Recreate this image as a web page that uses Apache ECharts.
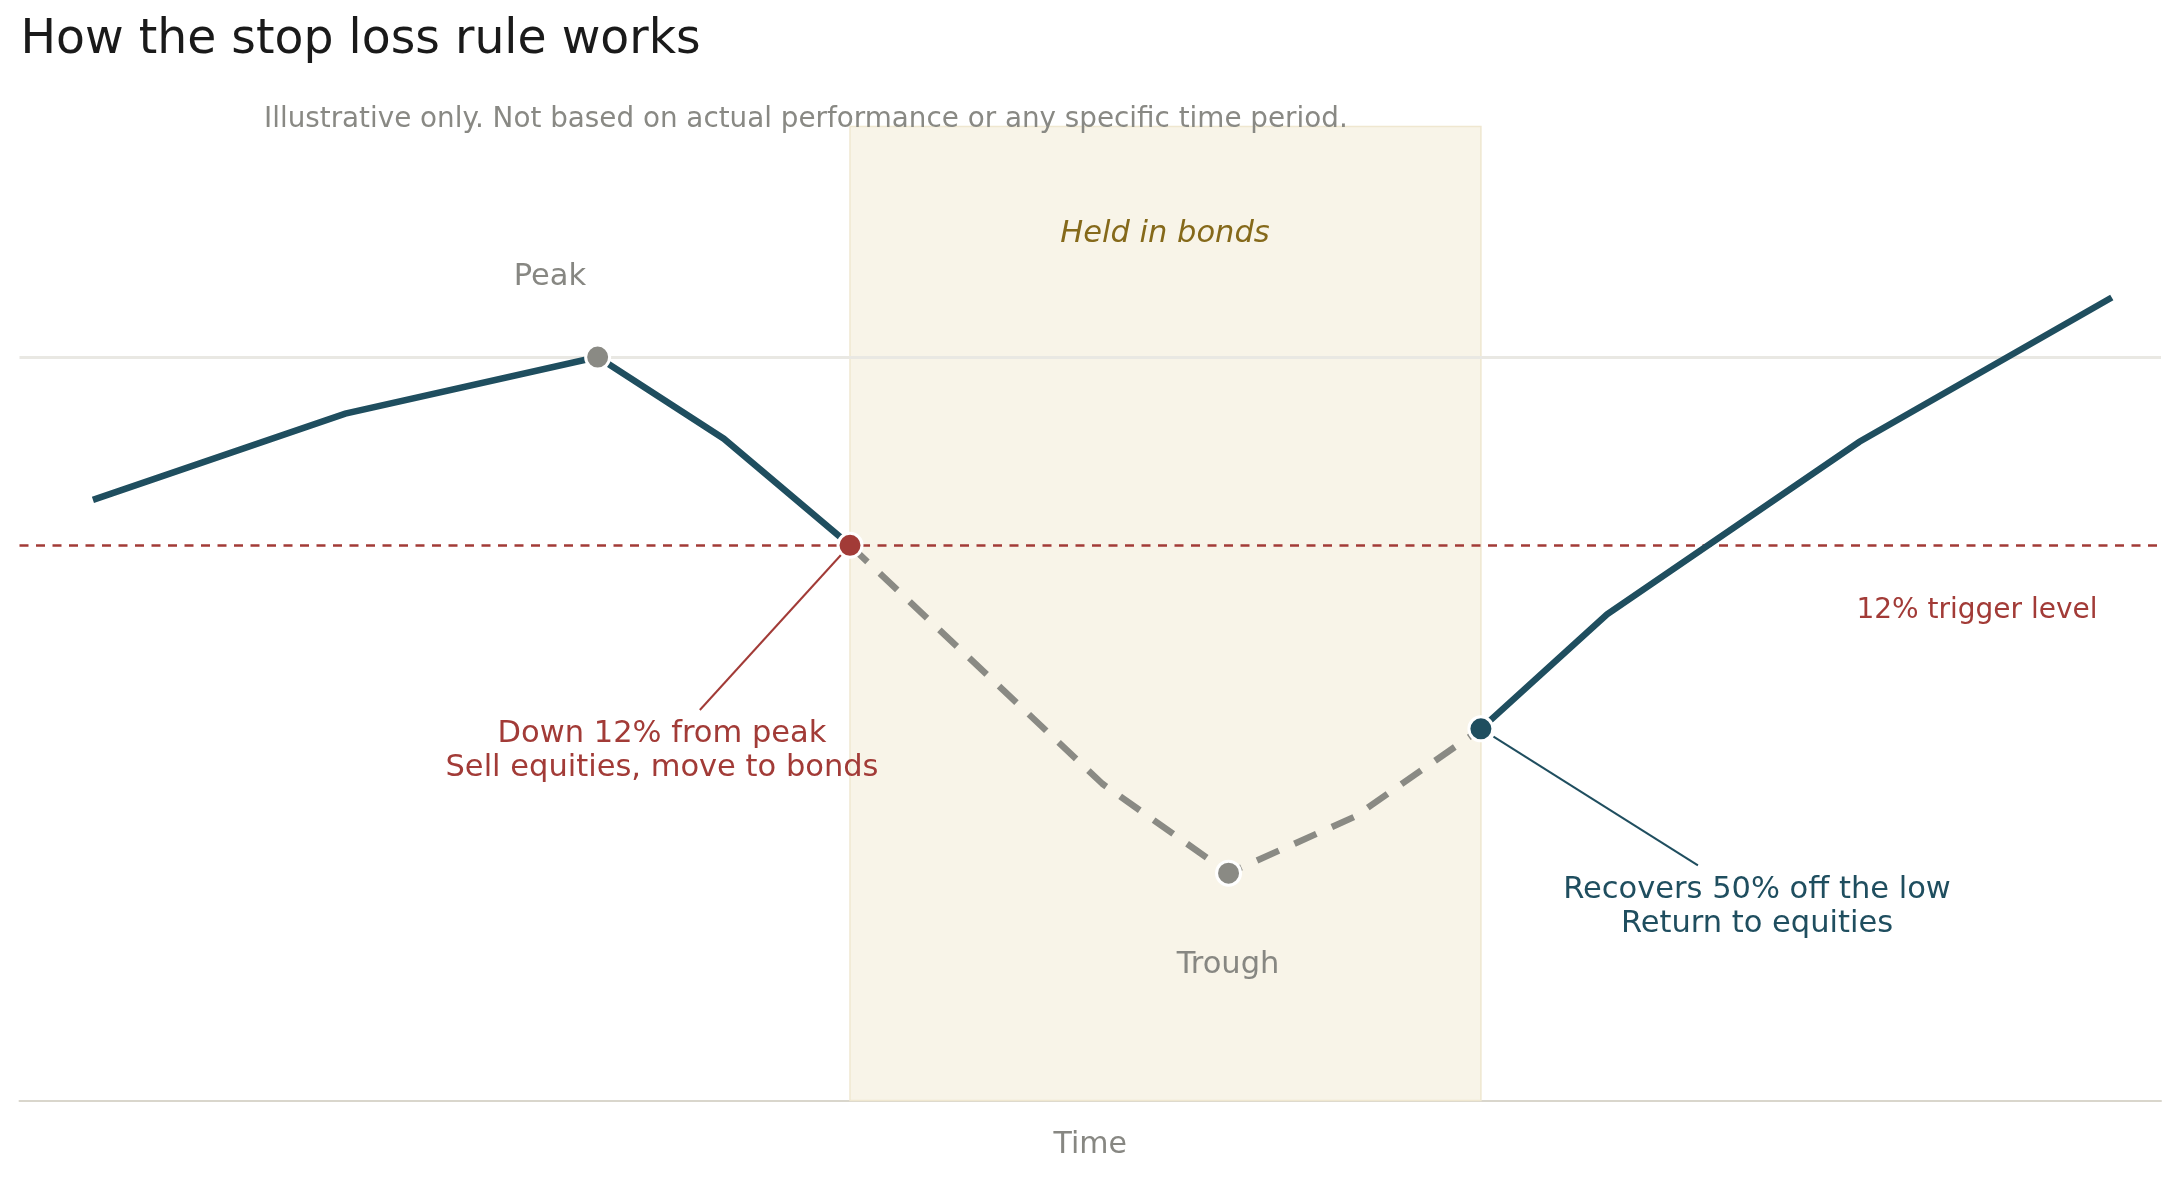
<!DOCTYPE html>
<html>
<head>
<meta charset="utf-8">
<title>How the stop loss rule works</title>
<script src="https://cdn.jsdelivr.net/npm/echarts@6/dist/echarts.min.js"></script>
<style>
  html, body { margin: 0; padding: 0; background: #ffffff; }
  #chart { width: 2179px; height: 1179px; }
</style>
</head>
<body>
<div id="chart"></div>
<script>
/* ---- data (illustrative path) ---- */
var times  = [0, 2, 4, 5, 6, 8, 9, 10, 11, 12, 14, 16];
var values = [90.9, 96.4, 100, 94.8, 88, 72.8, 67.1, 70.7, 76.3, 83.6, 94.6, 103.8];

var peakLevel = 100;      // reference line at the peak
var triggerLevel = 88;    // 12% below the peak

var peakIndex = 2;
var sellIndex = 4;
var troughIndex = 6;
var buyIndex = 8;

var labels = {
  title: 'How the stop loss rule works',
  subtitle: 'Illustrative only. Not based on actual performance or any specific time period.',
  peak: 'Peak',
  trough: 'Trough',
  bonds: 'Held in bonds',
  trigger: '12% trigger level',
  sell: 'Down 12% from peak\nSell equities, move to bonds',
  buy: 'Recovers 50% off the low\nReturn to equities',
  xName: 'Time'
};

/* colours */
var TEAL = '#1f4e5f';
var RED = '#a23b37';
var GREY = '#8a8a84';
var GOLD = '#85691a';
var FONT = 'DejaVu Sans';

function segment(a, b) {
  var out = [];
  for (var i = a; i <= b; i++) out.push([times[i], values[i]]);
  return out;
}

function keyPoint(i, color) {
  return {
    value: [times[i], values[i]],
    itemStyle: { color: color, borderColor: '#ffffff', borderWidth: 3, opacity: 1 }
  };
}

var chart = echarts.init(document.getElementById('chart'), null, { renderer: 'canvas' });

var option = {
  animation: false,
  backgroundColor: '#ffffff',
  title: [{
    text: labels.title,
    left: 20.5, top: 17.5, padding: 0,
    textStyle: { fontFamily: FONT, fontSize: 47.3, fontWeight: 'normal', color: '#1a1a1a', lineHeight: 47.3 }
  }, {
    text: labels.subtitle,
    left: 264, top: 106, padding: 0,
    textStyle: { fontFamily: FONT, fontSize: 27.8, fontWeight: 'normal', color: '#898984', lineHeight: 27.8 }
  }],
  grid: { left: 19.5, right: 18, top: 126.5, bottom: 78.4, containLabel: false },
  xAxis: {
    type: 'value',
    min: -0.582,
    max: 16.39,
    name: labels.xName,
    nameLocation: 'middle',
    nameGap: 30,
    nameTextStyle: { fontFamily: FONT, fontSize: 30, color: '#878782' },
    axisLine: { show: true, lineStyle: { color: '#d9d6cc', width: 2 } },
    axisTick: { show: false },
    axisLabel: { show: false },
    splitLine: { show: false }
  },
  yAxis: {
    type: 'value',
    min: 52.6,
    max: 114.7,
    axisLine: { show: false },
    axisTick: { show: false },
    axisLabel: { show: false },
    splitLine: { show: false }
  },
  series: [
    {
      // shaded period + reference lines
      name: 'frame',
      type: 'line',
      data: [],
      z: 1,
      silent: true,
      markArea: {
        z: 1,
        silent: true,
        itemStyle: { color: '#f8f4e8', borderColor: '#efe7d0', borderWidth: 1.5 },
        data: [[{ xAxis: times[sellIndex] }, { xAxis: times[buyIndex] }]]
      },
      markLine: {
        z: 2,
        silent: true,
        symbol: ['none', 'none'],
        label: { show: false },
        emphasis: { disabled: true },
        data: [
          { yAxis: peakLevel, lineStyle: { color: '#e9e8e3', width: 3, type: 'solid' } },
          { yAxis: triggerLevel, lineStyle: { color: RED, width: 2.5, type: [9, 7.5] } }
        ]
      }
    },
    {
      name: 'annotation lines',
      type: 'line',
      data: [],
      z: 2,
      silent: true,
      markLine: {
        z: 2,
        silent: true,
        symbol: ['none', 'none'],
        label: { show: false },
        emphasis: { disabled: true },
        data: [
          [{ coord: [4.81, 77.5], lineStyle: { color: RED, width: 2, type: 'solid' } }, { coord: [5.93, 87.4] }],
          [{ coord: [11.10, 75.8], lineStyle: { color: TEAL, width: 2, type: 'solid' } }, { coord: [12.72, 67.6] }]
        ]
      }
    },
    {
      name: 'Equities',
      type: 'line',
      data: segment(0, sellIndex),
      z: 3,
      symbol: 'none',
      lineStyle: { color: TEAL, width: 6.5, cap: 'butt', join: 'miter' }
    },
    {
      name: 'Avoided drawdown',
      type: 'line',
      data: segment(sellIndex, buyIndex),
      z: 3,
      symbol: 'none',
      lineStyle: { color: GREY, width: 6.5, type: [24, 17], cap: 'butt' }
    },
    {
      name: 'Equities again',
      type: 'line',
      data: segment(buyIndex, times.length - 1),
      z: 3,
      symbol: 'none',
      lineStyle: { color: TEAL, width: 6.5, cap: 'butt', join: 'miter' }
    },
    {
      name: 'Key points',
      type: 'scatter',
      z: 4,
      symbol: 'circle',
      symbolSize: 24,
      itemStyle: { opacity: 1 },
      emphasis: { disabled: true },
      data: [
        keyPoint(peakIndex, GREY),
        keyPoint(sellIndex, RED),
        keyPoint(troughIndex, GREY),
        keyPoint(buyIndex, TEAL)
      ]
    }
  ],
  graphic: [
    { type: 'text', x: 550, y: 277.5, z: 10, silent: true,
      style: { text: labels.peak, fill: '#878782', fontFamily: FONT, fontSize: 30.5, textAlign: 'center', textVerticalAlign: 'middle' } },
    { type: 'text', x: 1165, y: 234.5, z: 10, silent: true,
      style: { text: labels.bonds, fill: GOLD, fontFamily: FONT, fontSize: 30.5, fontStyle: 'italic', textAlign: 'center', textVerticalAlign: 'middle' } },
    { type: 'text', x: 1228, y: 965, z: 10, silent: true,
      style: { text: labels.trough, fill: '#878782', fontFamily: FONT, fontSize: 30.5, textAlign: 'center', textVerticalAlign: 'middle' } },
    { type: 'text', x: 1977, y: 610.5, z: 10, silent: true,
      style: { text: labels.trigger, fill: RED, fontFamily: FONT, fontSize: 28, textAlign: 'center', textVerticalAlign: 'middle' } },
    { type: 'text', x: 662, y: 751, z: 10, silent: true,
      style: { text: labels.sell, fill: RED, fontFamily: FONT, fontSize: 30.5, lineHeight: 34, textAlign: 'center', textVerticalAlign: 'middle' } },
    { type: 'text', x: 1757, y: 907, z: 10, silent: true,
      style: { text: labels.buy, fill: TEAL, fontFamily: FONT, fontSize: 30.5, lineHeight: 34, textAlign: 'center', textVerticalAlign: 'middle' } }
  ]
};

chart.setOption(option);
</script>
</body>
</html>
